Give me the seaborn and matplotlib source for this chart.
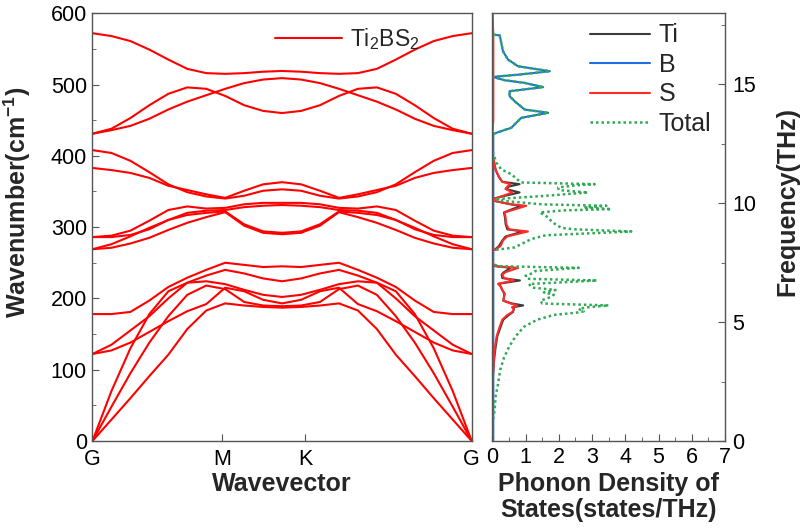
import numpy as np
import pandas as pd
import seaborn as sns
import matplotlib
matplotlib.use("Agg")
import matplotlib.pyplot as plt
from matplotlib.ticker import MultipleLocator

# ---------------- data: phonon dispersion (cm^-1) ----------------
k_path = [0.00, 0.05, 0.10, 0.15, 0.20, 0.25, 0.30, 0.35, 0.40, 0.45, 0.50,
          0.55, 0.60, 0.65, 0.70, 0.75, 0.80, 0.85, 0.90, 0.95, 1.00]
hs_pos = [0.0, 0.341, 0.561, 1.0]
hs_labels = ["G", "M", "K", "G"]

band01 = [0, 30, 60, 91, 121, 157, 183, 193, 190, 188, 187, 188, 190, 193, 183, 157, 121, 91, 60, 30, 0]
band02 = [0, 48, 95, 138, 175, 205, 218, 213, 195, 190, 189, 190, 195, 213, 218, 205, 175, 138, 95, 48, 0]
band03 = [0, 70, 130, 178, 210, 222, 224, 220, 212, 205, 202, 205, 212, 220, 224, 222, 210, 178, 130, 70, 0]
band04 = [122, 127, 138, 153, 168, 182, 192, 215, 210, 198, 193, 198, 210, 215, 192, 182, 168, 153, 138, 127, 122]
band05 = [122, 135, 155, 175, 200, 222, 232, 240, 235, 228, 224, 228, 235, 240, 232, 222, 200, 175, 155, 135, 122]
band06 = [178, 178, 181, 197, 216, 229, 240, 250, 247, 244, 245, 244, 247, 250, 240, 229, 216, 197, 181, 178, 178]
band07 = [269, 271, 277, 285, 296, 306, 314, 321, 302, 292, 290, 292, 302, 321, 314, 306, 296, 285, 277, 271, 269]
band08 = [269, 276, 287, 299, 310, 317, 320, 322, 304, 294, 292, 294, 304, 322, 320, 317, 310, 299, 287, 276, 269]
band09 = [286, 286, 289, 297, 310, 320, 323, 324, 328, 330, 331, 330, 328, 324, 323, 320, 310, 297, 289, 286, 286]
band10 = [286, 288, 295, 309, 324, 329, 326, 327, 332, 334, 334, 334, 332, 327, 326, 329, 324, 309, 295, 288, 286]
band11 = [383, 380, 376, 369, 358, 352, 346, 341, 351, 360, 363, 360, 351, 341, 346, 352, 358, 369, 376, 380, 383]
band12 = [408, 404, 393, 377, 360, 349, 343, 340, 344, 351, 353, 351, 344, 340, 343, 349, 360, 377, 393, 404, 408]
band13 = [431, 436, 442, 452, 465, 476, 485, 494, 502, 507, 509, 507, 502, 494, 485, 476, 465, 452, 442, 436, 431]
band14 = [431, 438, 453, 471, 487, 496, 494, 484, 471, 463, 460, 463, 471, 484, 494, 496, 487, 471, 453, 438, 431]
band15 = [572, 568, 561, 549, 535, 522, 516, 515, 516, 518, 519, 518, 516, 515, 516, 522, 535, 549, 561, 568, 572]
bands = [band01, band02, band03, band04, band05, band06, band07, band08,
         band09, band10, band11, band12, band13, band14, band15]

# ---------------- data: phonon DOS (THz, states/THz) ----------------
pdos_freq = [0.0, 2.5, 3.0, 3.5, 3.95, 4.4, 4.8, 5.1, 5.3, 5.42, 5.55, 5.62, 5.7, 5.78, 5.9,
             6.05, 6.19, 6.35, 6.5, 6.61, 6.75, 6.85, 7.0, 7.1, 7.28, 7.35, 7.45,
             8.0, 8.05, 8.2, 8.43, 8.6, 8.81, 8.9, 9.12, 9.4, 9.61, 9.75, 9.89, 9.95,
             10.1, 10.17, 10.3, 10.45, 10.6, 10.7, 10.8, 10.9, 11.1, 11.4, 11.8, 12.1,
             12.9, 13.5, 17.1, 17.99]
ti_dos = [0.0, 0.01, 0.03, 0.06, 0.1, 0.15, 0.25, 0.33, 0.5, 0.62, 0.65, 0.6, 0.93, 0.6, 0.33,
          0.35, 0.36, 0.3, 0.25, 0.2, 0.83, 0.3, 0.28, 0.35, 0.55, 0.1, 0.0,
          0.0, 0.08, 0.2, 0.3, 0.4, 0.92, 0.45, 0.4, 0.38, 0.35, 0.6, 0.87, 0.55,
          0.05, 0.0, 0.35, 0.82, 0.4, 0.5, 0.82, 0.3, 0.2, 0.1, 0.04, 0.0,
          0.0, 0.01, 0.01, 0.0]
s_dos = [0.0, 0.01, 0.03, 0.05, 0.08, 0.13, 0.22, 0.3, 0.45, 0.6, 0.65, 0.6, 0.75, 0.55, 0.33,
         0.35, 0.38, 0.3, 0.25, 0.17, 0.65, 0.35, 0.3, 0.4, 0.78, 0.1, 0.0,
         0.0, 0.1, 0.25, 0.32, 0.45, 1.07, 0.5, 0.42, 0.4, 0.37, 0.7, 1.02, 0.6,
         0.05, 0.0, 0.3, 0.6, 0.4, 0.45, 0.55, 0.3, 0.2, 0.1, 0.04, 0.0,
         0.0, 0.03, 0.03, 0.0]

b_freq = [0.0, 12.85, 12.9, 13.03, 13.17, 13.59, 13.8, 13.94, 14.29, 14.5, 14.71, 14.88,
          15.06, 15.17, 15.31, 15.41, 15.55, 15.76, 16.04, 16.39, 16.88, 17.06, 17.09, 17.99]
b_dos = [0.03, 0.03, 0.0, 0.27, 0.57, 0.87, 1.68, 0.97, 0.67, 0.52, 0.52, 1.53,
         0.97, 0.37, 0.02, 0.82, 1.73, 0.77, 0.47, 0.32, 0.25, 0.22, 0.0, 0.0]

tot_freq = [0.0, 0.7, 1.3, 1.9, 2.3, 3.0, 3.5, 3.95, 4.4, 4.8, 5.1, 5.3, 5.4, 5.45, 5.55, 5.62,
            5.7, 5.78, 5.9, 6.05, 6.15, 6.25, 6.35, 6.45, 6.6, 6.68, 6.75, 6.82, 6.95, 7.05,
            7.15, 7.28, 7.35, 7.42, 7.45,
            8.0, 8.03, 8.14, 8.3, 8.49, 8.65, 8.81, 8.9, 8.96, 9.2, 9.4, 9.61, 9.7, 9.75,
            9.82, 9.89, 9.95, 10.1, 10.17, 10.3, 10.45, 10.55, 10.66, 10.75, 10.8, 10.87,
            11.0, 11.22, 11.42, 11.71, 12.12, 12.2,
            12.9, 13.03, 13.17, 13.59, 13.8, 13.94, 14.29, 14.5, 14.71, 14.88,
            15.06, 15.17, 15.31, 15.41, 15.55, 15.76, 16.04, 16.39, 16.88, 17.06, 17.09]
tot_dos = [0.0, 0.0, 0.07, 0.1, 0.16, 0.24, 0.35, 0.5, 0.7, 0.95, 1.35, 1.85, 2.55, 2.75, 2.6, 2.85,
           3.5, 1.5, 1.45, 1.75, 1.85, 1.55, 1.9, 1.2, 1.1, 2.2, 3.15, 1.05, 1.0, 1.2,
           1.3, 2.6, 0.2, 0.05, 0.0,
           0.0, 0.07, 0.67, 0.9, 1.17, 1.6, 4.18, 2.5, 2.08, 1.8, 1.68, 1.43, 2.2, 3.58,
           2.8, 3.43, 1.5, 0.3, 0.07, 1.5, 2.88, 2.0, 1.98, 2.5, 3.08, 0.87,
           0.75, 0.57, 0.27, 0.12, 0.02, 0.0,
           0.0, 0.27, 0.57, 0.87, 1.68, 0.97, 0.67, 0.52, 0.52, 1.53,
           0.97, 0.37, 0.02, 0.82, 1.73, 0.77, 0.47, 0.32, 0.25, 0.22, 0.0]

# ---------------- style ----------------
sns.set_style("ticks")
plt.rcParams["font.family"] = ["Liberation Sans", "DejaVu Sans"]
plt.rcParams["mathtext.fontset"] = "custom"
plt.rcParams["mathtext.rm"] = "Liberation Sans"
plt.rcParams["mathtext.it"] = "Liberation Sans:italic"
plt.rcParams["mathtext.bf"] = "Liberation Sans:bold"
spine_c = "#555555"
tick_fs = 15.5
label_fs = 18

fig = plt.figure(figsize=(8, 5.3), dpi=100)
ax1 = fig.add_axes([0.1156, 0.168, 0.474, 0.807])
ax2 = fig.add_axes([0.6154, 0.168, 0.2909, 0.807])

# ---------------- dispersion ----------------
rows = []
for i, b in enumerate(bands):
    for k, w in zip(k_path, b):
        rows.append((i, k, w))
df = pd.DataFrame(rows, columns=["band", "k", "w"])
sns.lineplot(data=df, x="k", y="w", units="band", estimator=None, sort=False,
             color="#ff0000", lw=1.5, ax=ax1, legend=False)
ax1.plot([], [], color="#ff0000", lw=1.5, label=r"Ti$_2$BS$_2$")
ax1.legend(loc="upper right", bbox_to_anchor=(0.895, 1.0), frameon=False, fontsize=16.5,
           handlelength=2.9, handletextpad=0.35, borderaxespad=0.15)
ax1.set_xlim(0, 1)
ax1.set_ylim(0, 600)
ax1.set_xticks(hs_pos)
ax1.set_xticklabels(hs_labels)
ax1.yaxis.set_major_locator(MultipleLocator(100))
ax1.yaxis.set_minor_locator(MultipleLocator(50))
ax1.tick_params(axis="both", which="both", direction="in", labelsize=tick_fs, colors="black",
                color=spine_c)
ax1.tick_params(axis="x", which="major", length=5, pad=6)
ax1.tick_params(axis="y", which="major", length=5, pad=4)
ax1.tick_params(axis="y", which="minor", length=3)
ax1.set_xlabel("Wavevector", fontsize=label_fs, fontweight="bold", labelpad=1)
ax1.set_ylabel(r"Wavenumber(cm$^{\mathbf{-1}}$)", fontsize=label_fs, fontweight="bold")
ax1.yaxis.set_label_coords(-0.158, 0.557)

# ---------------- DOS ----------------
sns.lineplot(x=ti_dos, y=pdos_freq, sort=False, estimator=None, color="#3c3c3c", lw=1.5,
             ax=ax2, label="Ti")
sns.lineplot(x=b_dos, y=b_freq, sort=False, estimator=None, color="#1f6fe0", lw=1.5,
             ax=ax2, label="B")
sns.lineplot(x=s_dos, y=pdos_freq, sort=False, estimator=None, color="#ff2a2a", lw=1.5,
             ax=ax2, label="S")
sns.lineplot(x=tot_dos, y=tot_freq, sort=False, estimator=None, color="#2eaa55", lw=1.8,
             ax=ax2, label="Total", dashes=False)
ax2.lines[-1].set_linestyle((0, (1, 1.2)))
ax2.legend(loc="upper right", frameon=False, fontsize=18, handlelength=2.4,
           handletextpad=0.35, labelspacing=0.22, borderaxespad=0.0,
           bbox_to_anchor=(0.985, 1.0))
ax2.set_xlim(0, 7)
ax2.set_ylim(0, 600 / 33.356)
ax2.xaxis.set_major_locator(MultipleLocator(1))
ax2.xaxis.set_minor_locator(MultipleLocator(0.5))
ax2.yaxis.set_major_locator(MultipleLocator(5))
ax2.yaxis.set_minor_locator(MultipleLocator(2.5))
ax2.yaxis.tick_right()
ax2.tick_params(axis="both", which="both", direction="in", labelsize=tick_fs, colors="black",
                color=spine_c)
ax2.tick_params(axis="x", which="major", length=5, pad=4)
ax2.tick_params(axis="y", which="major", length=5, pad=5)
ax2.tick_params(axis="both", which="minor", length=3)
ax2.tick_params(axis="y", which="both", left=False, right=True, labelleft=False, labelright=True)
ax2.set_xlabel("Phonon Density of\nStates(states/THz)", fontsize=label_fs, fontweight="bold",
               labelpad=3, linespacing=1.1)
ax2.yaxis.set_label_position("right")
ax2.set_ylabel("Frequency(THz)", fontsize=label_fs, fontweight="bold", rotation=90)
ax2.yaxis.set_label_coords(1.215, 0.56)

for ax in (ax1, ax2):
    for sp in ax.spines.values():
        sp.set_visible(True)
        sp.set_color(spine_c)
        sp.set_linewidth(1.0)

fig.savefig("out.png", dpi=100)
